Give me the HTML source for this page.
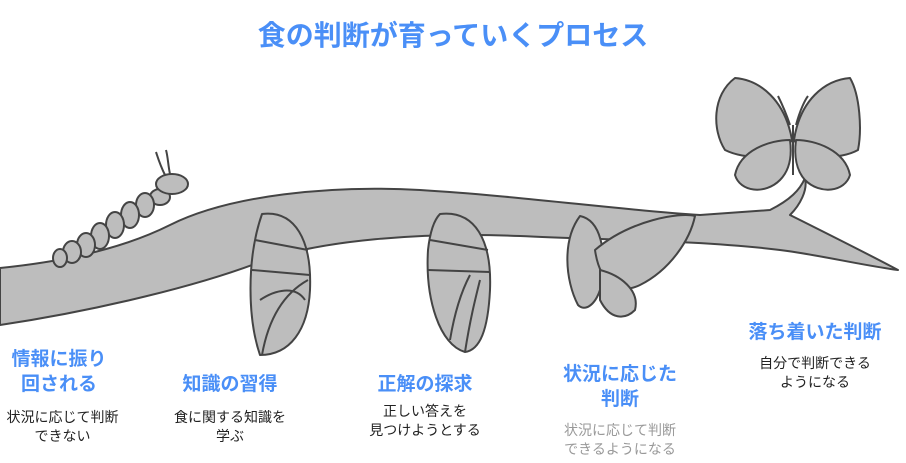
<!DOCTYPE html>
<html><head><meta charset="utf-8"><style>
body{margin:0;width:906px;height:463px;background:#fff;overflow:hidden;position:relative;font-family:"Liberation Sans","Noto Sans CJK JP",sans-serif}
.t{position:absolute;text-align:center;font-weight:bold;color:#4a8ff7;font-size:19px;line-height:25px}
.d{position:absolute;text-align:center;color:#222;font-size:14px;line-height:19px}
</style></head><body>
<svg width="906" height="463" style="position:absolute;left:0;top:0" stroke="#444" stroke-width="2" fill="#bdbdbd" stroke-linejoin="round">
<path d="M0 268 C60 262 120 250 170 225 C230 195 330 185 420 190 C520 196 620 210 700 215 L770 210 C790 200 800 190 805 178 C808 190 800 205 790 215 C830 235 870 255 898 270 C860 265 820 255 780 250 C700 240 600 240 520 236 C420 232 320 240 260 262 C200 285 100 310 0 325 Z"/>
<g>
<ellipse cx="160" cy="197" rx="10" ry="8"/><ellipse cx="172" cy="184" rx="16" ry="10"/>
<ellipse cx="145" cy="205" rx="9" ry="12"/><ellipse cx="130" cy="215" rx="9" ry="13"/><ellipse cx="115" cy="225" rx="9" ry="13"/><ellipse cx="100" cy="236" rx="9" ry="13"/><ellipse cx="86" cy="245" rx="9" ry="12"/><ellipse cx="72" cy="252" rx="9" ry="11"/><ellipse cx="60" cy="258" rx="7" ry="9"/>
<path d="M165 175 C160 165 158 158 156 152 M170 174 C168 165 168 157 166 150" fill="none"/>
</g>
<path d="M262 214 C295 210 312 240 310 290 C308 330 290 355 260 355 C248 320 246 260 262 214 Z"/>
<path d="M255 240 L308 250 M252 270 L310 275 M262 355 C270 310 290 290 308 280 M260 300 C275 290 295 285 305 300" fill="none"/>
<path d="M440 214 C475 210 492 240 490 290 C488 330 480 350 465 352 C440 345 425 300 428 250 C430 232 434 220 440 214 Z"/>
<path d="M430 240 L488 250 M428 270 L490 272 M465 352 C470 320 475 300 480 280 M450 340 C455 310 462 290 470 275" fill="none"/>
<path d="M580 216 C600 220 608 250 600 290 C595 305 585 312 578 305 C565 280 562 240 580 216 Z"/>
<path d="M595 250 C630 220 680 212 695 216 C690 240 670 270 640 285 C620 295 600 285 595 250 Z"/>
<path d="M600 270 C620 275 640 290 635 310 C625 320 610 320 600 300 Z"/>
<path d="M735 78 C760 80 785 100 792 140 C780 160 745 160 725 150 C712 130 712 95 735 78 Z"/>
<path d="M850 78 C825 80 800 100 794 140 C805 160 840 160 858 150 C862 130 860 95 850 78 Z"/>
<path d="M790 140 C770 140 740 150 735 175 C740 192 765 195 780 180 C790 170 792 155 790 140 Z"/>
<path d="M796 140 C815 140 845 150 850 175 C845 192 820 195 805 180 C796 170 794 155 796 140 Z"/>
<path d="M793 125 L793 175 M790 125 C785 110 780 100 778 96 M796 125 C800 110 805 100 808 96" fill="none"/>
</svg>
<div style="position:absolute;left:0;width:906px;top:14px;text-align:center;font-weight:bold;color:#4a8ff7;font-size:28px;font-family:'Liberation Sans','Noto Sans CJK JP',sans-serif">食の判断が育っていくプロセス</div>
<div class="t" style="left:0;width:118px;top:347px">情報に振り<br>回される</div>
<div class="d" style="left:0;width:125px;top:408px">状況に応じて判断<br>できない</div>
<div class="t" style="left:160px;width:140px;top:372px">知識の習得</div>
<div class="d" style="left:155px;width:150px;top:408px">食に関する知識を<br>学ぶ</div>
<div class="t" style="left:355px;width:140px;top:372px">正解の探求</div>
<div class="d" style="left:350px;width:150px;top:402px">正しい答えを<br>見つけようとする</div>
<div class="t" style="left:550px;width:140px;top:362px">状況に応じた<br>判断</div>
<div class="d" style="left:545px;width:150px;top:421px;color:#999">状況に応じて判断<br>できるようになる</div>
<div class="t" style="left:740px;width:150px;top:320px">落ち着いた判断</div>
<div class="d" style="left:740px;width:150px;top:354px">自分で判断できる<br>ようになる</div>
</body></html>
